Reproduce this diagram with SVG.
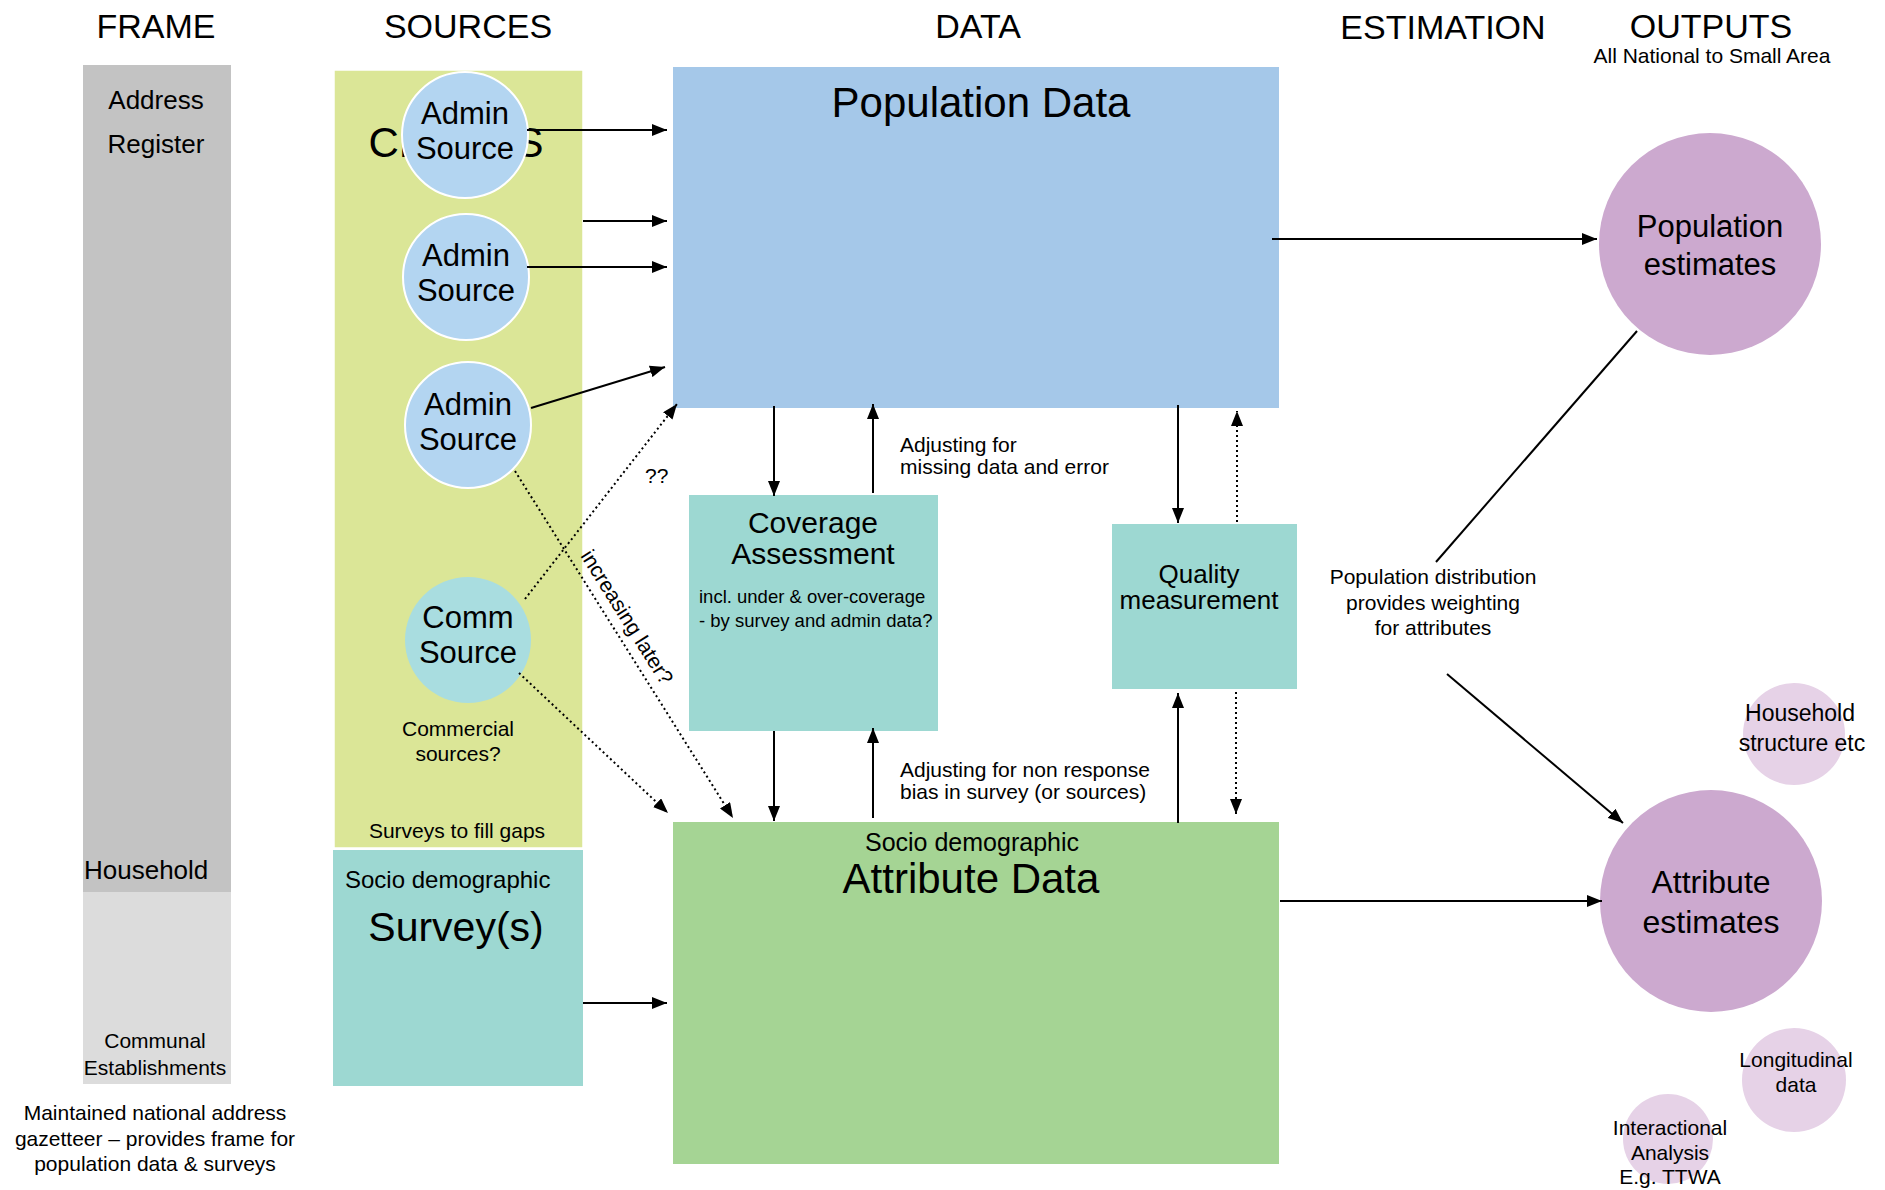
<svg xmlns="http://www.w3.org/2000/svg" width="1885" height="1190" viewBox="0 0 1885 1190">
<defs>
<style>
text{font-family:"Liberation Sans",Arial,Helvetica,sans-serif;fill:#000}
.title{font-size:34px;text-anchor:middle}
.mid{text-anchor:middle}
.c{stroke:#000;stroke-width:2;fill:none}
.d{stroke:#000;stroke-width:2;fill:none;stroke-dasharray:2 3}
</style>
<marker id="ah" viewBox="0 0 15 12" refX="15" refY="6" markerWidth="15" markerHeight="12" markerUnits="userSpaceOnUse" orient="auto">
<path d="M0,0 L15,6 L0,12 z" fill="#000"/>
</marker>
</defs>
<rect width="1885" height="1190" fill="#fff"/>

<g id="titles">
<text class="title" x="156" y="38">FRAME</text>
<text class="title" x="468" y="38">SOURCES</text>
<text class="title" x="978" y="38">DATA</text>
<text class="title" x="1443" y="39">ESTIMATION</text>
<text class="title" x="1711" y="38">OUTPUTS</text>
<text class="mid" x="1712" y="63" font-size="21">All National to Small Area</text>
</g>

<g id="frame">
<rect x="83" y="65" width="148" height="827" fill="#c3c3c3"/>
<rect x="83" y="892" width="148" height="192" fill="#dcdcdc"/>
<text class="mid" x="156" y="109" font-size="26">Address</text>
<text class="mid" x="156" y="153" font-size="26">Register</text>
<text x="84" y="879" font-size="26">Household</text>
<text class="mid" x="155" y="1048" font-size="21">Communal</text>
<text class="mid" x="155" y="1075" font-size="21">Establishments</text>
<text class="mid" x="155" y="1120" font-size="21">Maintained national address</text>
<text class="mid" x="155" y="1146" font-size="21">gazetteer – provides frame for</text>
<text class="mid" x="155" y="1171" font-size="21">population data &amp; surveys</text>
</g>

<g id="census">
<rect x="334" y="70" width="249" height="778" fill="#dbe697" stroke="#fff" stroke-width="1.5"/>
<text class="mid" x="456" y="157" font-size="42">CENSUS</text>
<text class="mid" x="458" y="736" font-size="21">Commercial</text>
<text class="mid" x="458" y="761" font-size="21">sources?</text>
<text class="mid" x="457" y="838" font-size="21">Surveys to fill gaps</text>
</g>

<g id="admin1">
<circle cx="465" cy="135" r="63" fill="#b3d5f1" stroke="#fff" stroke-width="2"/>
<text class="mid" x="465" y="124" font-size="31">Admin</text>
<text class="mid" x="465" y="159" font-size="31">Source</text>
</g>
<g id="admin2">
<circle cx="466" cy="277" r="63" fill="#b3d5f1" stroke="#fff" stroke-width="2"/>
<text class="mid" x="466" y="266" font-size="31">Admin</text>
<text class="mid" x="466" y="301" font-size="31">Source</text>
</g>
<g id="admin3">
<circle cx="468" cy="425" r="63" fill="#b3d5f1" stroke="#fff" stroke-width="2"/>
<text class="mid" x="468" y="415" font-size="31">Admin</text>
<text class="mid" x="468" y="450" font-size="31">Source</text>
</g>
<g id="comm">
<circle cx="468" cy="640" r="63" fill="#a9dde0"/>
<text class="mid" x="468" y="628" font-size="31">Comm</text>
<text class="mid" x="468" y="663" font-size="31">Source</text>
</g>

<g id="survey">
<rect x="333" y="850" width="250" height="236" fill="#9dd8d2"/>
<text x="345" y="888" font-size="24">Socio demographic</text>
<text class="mid" x="456" y="941" font-size="41">Survey(s)</text>
</g>

<g id="popdata">
<rect x="673" y="67" width="606" height="341" fill="#a5c8e9"/>
<text class="mid" x="981" y="117" font-size="42">Population Data</text>
</g>

<g id="coverage">
<rect x="689" y="495" width="249" height="236" fill="#9dd8d2"/>
<text class="mid" x="813" y="533" font-size="30">Coverage</text>
<text class="mid" x="813" y="564" font-size="30">Assessment</text>
<text x="699" y="603" font-size="18.5">incl. under &amp; over-coverage</text>
<text x="699" y="627" font-size="18.5">- by survey and admin data?</text>
</g>

<g id="quality">
<rect x="1112" y="524" width="185" height="165" fill="#9dd8d2"/>
<text class="mid" x="1199" y="583" font-size="26">Quality</text>
<text class="mid" x="1199" y="609" font-size="26">measurement</text>
</g>

<g id="attrdata">
<rect x="673" y="822" width="606" height="342" fill="#a5d494"/>
<text class="mid" x="972" y="851" font-size="25">Socio demographic</text>
<text class="mid" x="971" y="893" font-size="42">Attribute Data</text>
</g>

<g id="popest">
<circle cx="1710" cy="244" r="111" fill="#cca9cf"/>
<text class="mid" x="1710" y="237" font-size="31">Population</text>
<text class="mid" x="1710" y="275" font-size="31">estimates</text>
</g>

<g id="attrest">
<circle cx="1711" cy="901" r="111" fill="#cca9cf"/>
<text class="mid" x="1711" y="893" font-size="32">Attribute</text>
<text class="mid" x="1711" y="933" font-size="32">estimates</text>
</g>

<g id="household">
<circle cx="1794" cy="734" r="51" fill="#e6d2e7"/>
<text class="mid" x="1800" y="721" font-size="23">Household</text>
<text class="mid" x="1802" y="751" font-size="23">structure etc</text>
</g>

<g id="longitudinal">
<circle cx="1794" cy="1080" r="52" fill="#e6d2e7"/>
<text class="mid" x="1796" y="1067" font-size="21">Longitudinal</text>
<text class="mid" x="1796" y="1092" font-size="21">data</text>
</g>

<g id="interactional">
<circle cx="1668" cy="1139" r="45" fill="#e6d2e7"/>
<text class="mid" x="1670" y="1135" font-size="21">Interactional</text>
<text class="mid" x="1670" y="1160" font-size="21">Analysis</text>
<text class="mid" x="1670" y="1184" font-size="21">E.g. TTWA</text>
</g>

<g id="connectors">
<line class="c" x1="527" y1="130" x2="667" y2="130" marker-end="url(#ah)"/>
<line class="c" x1="583" y1="221" x2="667" y2="221" marker-end="url(#ah)"/>
<line class="c" x1="527" y1="267" x2="667" y2="267" marker-end="url(#ah)"/>
<line class="c" x1="531" y1="408" x2="665" y2="367" marker-end="url(#ah)"/>
<line class="c" x1="1272" y1="239" x2="1597" y2="239" marker-end="url(#ah)"/>
<line class="c" x1="774" y1="406" x2="774" y2="496" marker-end="url(#ah)"/>
<line class="c" x1="873" y1="493" x2="873" y2="404" marker-end="url(#ah)"/>
<line class="c" x1="774" y1="731" x2="774" y2="821" marker-end="url(#ah)"/>
<line class="c" x1="873" y1="818" x2="873" y2="728" marker-end="url(#ah)"/>
<line class="c" x1="1178" y1="405" x2="1178" y2="523" marker-end="url(#ah)"/>
<line class="d" x1="1237" y1="522" x2="1237" y2="411" marker-end="url(#ah)"/>
<line class="c" x1="1178" y1="823" x2="1178" y2="693" marker-end="url(#ah)"/>
<line class="d" x1="1236" y1="692" x2="1236" y2="814" marker-end="url(#ah)"/>
<line class="d" x1="515" y1="471" x2="733" y2="818" marker-end="url(#ah)"/>
<line class="d" x1="525" y1="599" x2="677" y2="404" marker-end="url(#ah)"/>
<line class="d" x1="519" y1="673" x2="668" y2="813" marker-end="url(#ah)"/>
<line class="c" x1="583" y1="1003" x2="667" y2="1003" marker-end="url(#ah)"/>
<line class="c" x1="1637" y1="331" x2="1436" y2="562"/>
<line class="c" x1="1447" y1="674" x2="1623" y2="823" marker-end="url(#ah)"/>
<line class="c" x1="1280" y1="901" x2="1602" y2="901" marker-end="url(#ah)"/>
</g>

<g id="labels">
<text x="900" y="452" font-size="21">Adjusting for</text>
<text x="900" y="474" font-size="21">missing data and error</text>
<text x="900" y="777" font-size="21">Adjusting for non response</text>
<text x="900" y="799" font-size="21">bias in survey (or sources)</text>
<text x="645" y="483" font-size="21">??</text>
<text class="mid" font-size="21" transform="translate(621,621) rotate(57.9)">increasing later?</text>
<text class="mid" x="1433" y="584" font-size="21">Population distribution</text>
<text class="mid" x="1433" y="610" font-size="21">provides weighting</text>
<text class="mid" x="1433" y="635" font-size="21">for attributes</text>
</g>
</svg>
